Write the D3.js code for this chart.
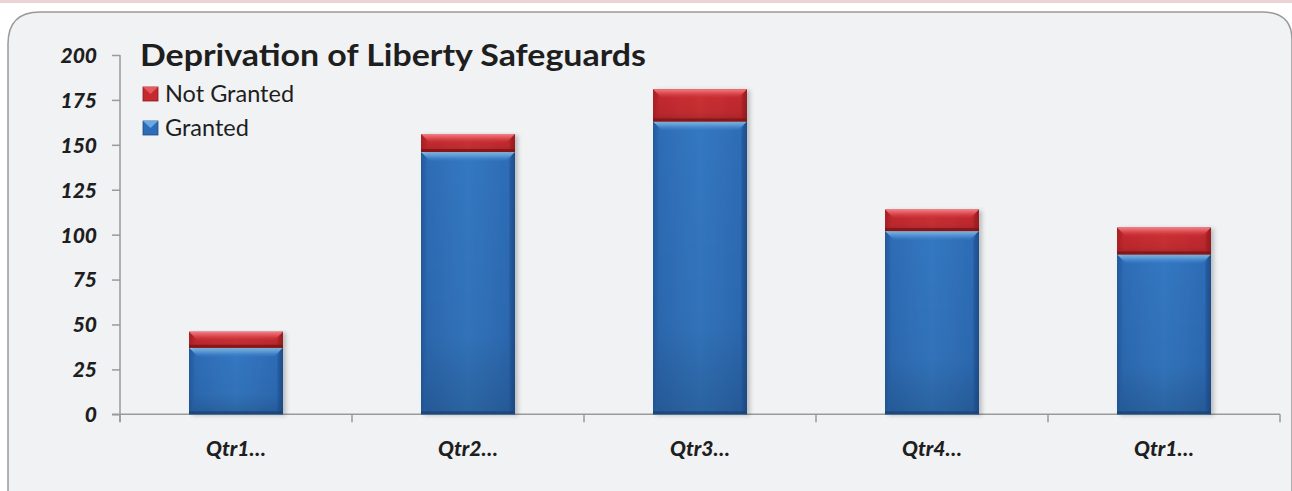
<!DOCTYPE html>
<html><head><meta charset="utf-8">
<script src="https://cdn.jsdelivr.net/npm/d3@7"></script>
<style>html,body{margin:0;padding:0;background:#fff;}svg{display:block;}</style>
</head><body>
<script>
const categories = ["Qtr1…", "Qtr2…", "Qtr3…", "Qtr4…", "Qtr1…"];
const granted = [37, 146, 163, 102, 89];
const notGranted = [9, 10, 18, 12, 15];
const yTicks = [0, 25, 50, 75, 100, 125, 150, 175, 200];
const seriesNames = ["Not Granted", "Granted"];
const title = "Deprivation of Liberty Safeguards";

const W = 1292, H = 491;
const FONT = "Lato, 'Open Sans', sans-serif";
const svg = d3.select("body").append("svg").attr("width", W).attr("height", H);
const defs = svg.append("defs");

// top strip
svg.append("rect").attr("x", 0).attr("y", 0).attr("width", W).attr("height", 3).attr("fill", "#ecd3d6");

// panel
svg.append("path")
  .attr("d", "M8,498 L8,44 Q8,12 40,12 L1262,12 Q1292,12 1292,40 L1292,498")
  .attr("fill", "#f1f2f4").attr("stroke", "#9a9a9a").attr("stroke-width", 1.5);

const x = d3.scaleBand().domain(d3.range(categories.length)).range([120, 1280]).paddingInner(0.595).paddingOuter(0.2975);
const y = d3.scaleLinear().domain([0, 200]).range([414.3, 55]);

function grad(id, stops, horiz) {
  const g = defs.append("linearGradient").attr("id", id)
    .attr("x1", 0).attr("y1", 0).attr("x2", horiz ? 1 : 0).attr("y2", horiz ? 0 : 1);
  stops.forEach(s => g.append("stop").attr("offset", s[0]).attr("stop-color", s[1]).attr("stop-opacity", s[2] === undefined ? 1 : s[2]));
}
grad("blueH", [[0, "#1d4f8e"], [0.06, "#2d6cb6"], [0.5, "#3478c2"], [0.94, "#2d6cb6"], [1, "#1b4a86"]], true);
grad("redH", [[0, "#9a1e22"], [0.06, "#c42a2e"], [0.5, "#cc3034"], [0.94, "#c42a2e"], [1, "#951c20"]], true);
grad("blueTop", [[0, "#9ccdf2", 1], [0.35, "#6aa8e2", 0.9], [1, "#3a7cc6", 0.2]], false);
grad("redTop", [[0, "#f37f86", 1], [0.4, "#e2575e", 0.9], [1, "#cc3034", 0.2]], false);
grad("shadeV", [[0, "#000", 0], [0.7, "#000", 0.05], [1, "#000", 0.18]], false);

const filt = defs.append("filter").attr("id", "shadow").attr("x", "-10%").attr("y", "-10%").attr("width", "130%").attr("height", "130%");
filt.append("feDropShadow").attr("dx", 3).attr("dy", 1).attr("stdDeviation", 2).attr("flood-color", "#000").attr("flood-opacity", 0.22);

// axes
const yAxis = d3.axisLeft(y).tickValues(yTicks).tickSize(8).tickPadding(15);
const ga = svg.append("g").attr("transform", "translate(120,0)").call(yAxis);
ga.select(".domain").attr("stroke", "#9a9a9a").attr("stroke-width", 1.5).attr("d", "M0,55V422");
ga.selectAll(".tick line").attr("stroke", "#9a9a9a").attr("stroke-width", 1.5);
ga.selectAll(".tick text").attr("font-family", FONT).attr("font-size", 21)
  .attr("font-weight", 900).attr("font-style", "italic").attr("fill", "#1e1e1e").attr("dy", "0.35em");

// x axis line & ticks
const xb = svg.append("g");
xb.append("line").attr("x1", 112).attr("x2", 1280).attr("y1", y(0)).attr("y2", y(0)).attr("stroke", "#9a9a9a").attr("stroke-width", 1.5);
d3.range(categories.length + 1).forEach(i => {
  const px = 120 + i * x.step();
  xb.append("line").attr("x1", px).attr("x2", px).attr("y1", y(0)).attr("y2", y(0) + 8).attr("stroke", "#9a9a9a").attr("stroke-width", 1.5);
});
xb.selectAll("text.xl").data(categories).join("text").attr("class", "xl")
  .attr("x", (d, i) => x(i) + x.bandwidth() / 2).attr("y", 456)
  .attr("text-anchor", "middle").attr("font-family", FONT).attr("font-size", 21)
  .attr("font-weight", 900).attr("font-style", "italic").attr("fill", "#1e1e1e").text(d => d);

// bars
function bevelBar(g, x0, w, yTop, yBot, kind) {
  const b = 9;
  const blue = kind === "blue";
  g.append("rect").attr("x", x0).attr("y", yTop).attr("width", w).attr("height", yBot - yTop)
    .attr("fill", blue ? "url(#blueH)" : "url(#redH)").attr("filter", "url(#shadow)");
  g.append("rect").attr("x", x0).attr("y", yTop).attr("width", w).attr("height", yBot - yTop)
    .attr("fill", "url(#shadeV)");
  // top bevel
  g.append("path").attr("d", `M${x0},${yTop} L${x0 + w},${yTop} L${x0 + w - b},${yTop + b} L${x0 + b},${yTop + b} Z`)
    .attr("fill", blue ? "url(#blueTop)" : "url(#redTop)");
  // side bevels
  g.append("path").attr("d", `M${x0},${yTop} L${x0 + b * 0.6},${yTop + b} L${x0 + b * 0.6},${yBot - 3} L${x0},${yBot} Z`)
    .attr("fill", blue ? "#2a63a8" : "#b52428").attr("opacity", 0.5);
  g.append("path").attr("d", `M${x0 + w},${yTop} L${x0 + w - b * 0.6},${yTop + b} L${x0 + w - b * 0.6},${yBot - 3} L${x0 + w},${yBot} Z`)
    .attr("fill", blue ? "#1f5291" : "#9c1e22").attr("opacity", 0.5);
  // bottom dark edge
  g.append("rect").attr("x", x0).attr("y", yBot - 3).attr("width", w).attr("height", 3)
    .attr("fill", blue ? "#1b4578" : "#7e1518").attr("opacity", 0.85);
}
const bars = svg.append("g");
categories.forEach((c, i) => {
  const x0 = x(i), w = x.bandwidth();
  bevelBar(bars, x0, w, y(granted[i]), y(0), "blue");
  bevelBar(bars, x0, w, y(granted[i] + notGranted[i]), y(granted[i]), "red");
});

// title
svg.append("text").attr("x", 140).attr("y", 66).attr("font-family", FONT)
  .attr("font-size", 30).attr("font-weight", "bold").attr("fill", "#1e1e1e")
  .attr("textLength", 506).attr("lengthAdjust", "spacingAndGlyphs").text(title);

// legend
const lg = svg.append("g");
seriesNames.forEach((s, i) => {
  const ly = 94 + i * 34;
  const red = i === 0;
  lg.append("rect").attr("x", 143).attr("y", ly - 7).attr("width", 15).attr("height", 14)
    .attr("fill", red ? "#c42a2e" : "#2d6cb6").attr("stroke", red ? "#8a1a1c" : "#1d4d8a").attr("stroke-width", 0.8);
  lg.append("path").attr("d", `M143,${ly - 7} L158,${ly - 7} L150.5,${ly} Z`).attr("fill", red ? "#e8585f" : "#6aaae4");
  lg.append("text").attr("x", 165).attr("y", ly + 8).attr("font-family", FONT)
    .attr("font-size", 23.5).attr("fill", "#1e1e1e").text(s);
});
</script>
</body></html>
